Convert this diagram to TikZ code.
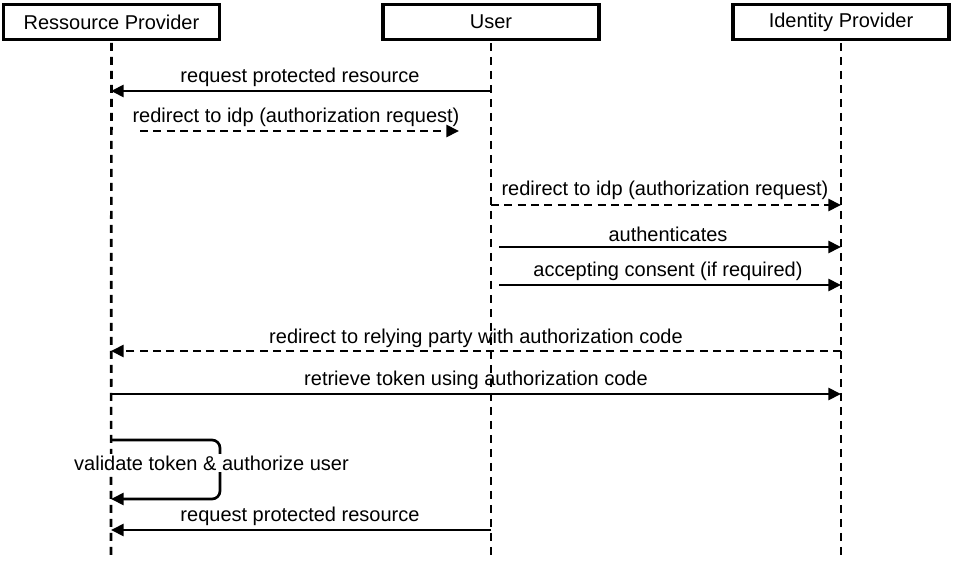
\documentclass[tikz,border=0pt]{standalone}
\usepackage{fontspec}
\setmainfont{Liberation Sans}
\usetikzlibrary{arrows.meta}
\begin{document}
\begin{tikzpicture}[x=0.75pt,y=-0.75pt,
  actor/.style={draw,line width=2.5pt,minimum width=162pt,minimum height=26.5pt,inner sep=0pt,font=\fontsize{15}{18}\selectfont,fill=white},
  lifeline/.style={line width=2pt,dash pattern=on 6pt off 4.5pt},
  msg/.style={line width=2pt,-{Triangle[length=9.5pt,width=9pt]}},
  dmsg/.style={msg,dash pattern=on 6pt off 4pt},
  lbl/.style={font=\fontsize{15}{18}\selectfont,inner sep=1pt}]
\useasboundingbox (0,0) rectangle (953,563);
\node[actor] (rp) at (111.5,22) {Ressource Provider};
\node[actor] (user) at (491,22) {User};
\node[actor] (idp) at (841,22) {Identity Provider};
\coordinate (rpE) at (111,556);
\coordinate (userE) at (491,556);
\coordinate (idpE) at (841,556);
\draw[lifeline] (rp.south) ++(0,1.5) -- (rpE);
\draw[lifeline] (user.south) ++(0,1.5) -- (userE);
\draw[lifeline] (idp.south) ++(0,1.5) -- (idpE);
% messages
\draw[msg] (userE |- 0,91) -- (rpE |- 0,91);
\node[lbl] (l1) at (300,77) {request protected resource};
\coordinate (r2s) at (140,131);
\coordinate (r2e) at (459,131);
\draw[dmsg] (r2s) -- (r2e);
\node[lbl] (l2) at (296,117) {redirect to idp (authorization request)};
\draw[dmsg] (userE |- 0,205) -- (idpE |- 0,205);
\node[lbl] (l3) at (665,190) {redirect to idp (authorization request)};
\draw[msg] ([xshift=6]userE |- 0,247) -- (idpE |- 0,247);
\node[lbl] (l4) at (668,234) {authenticates};
\draw[msg] ([xshift=6]userE |- 0,285) -- (idpE |- 0,285);
\node[lbl] (l5) at (668,271) {accepting consent (if required)};
\draw[dmsg] (idpE |- 0,351) -- (rpE |- 0,351);
\node[lbl] (l6) at (476,338) {redirect to relying party with authorization code};
\draw[msg] (rpE |- 0,394) -- (idpE |- 0,394);
\node[lbl] (l7) at (476,380) {retrieve token using authorization code};
\coordinate (loopc) at (220,470);
\draw[msg,rounded corners=6] (rpE |- 0,440) -| (loopc) |- (rpE |- 0,499);
\node[lbl,fill=white] (l8) at (211.5,463) {validate token \& authorize user};
\draw[msg] (userE |- 0,530) -- (rpE |- 0,530);
\node[lbl] (l9) at (300,516) {request protected resource};
\end{tikzpicture}
\end{document}
